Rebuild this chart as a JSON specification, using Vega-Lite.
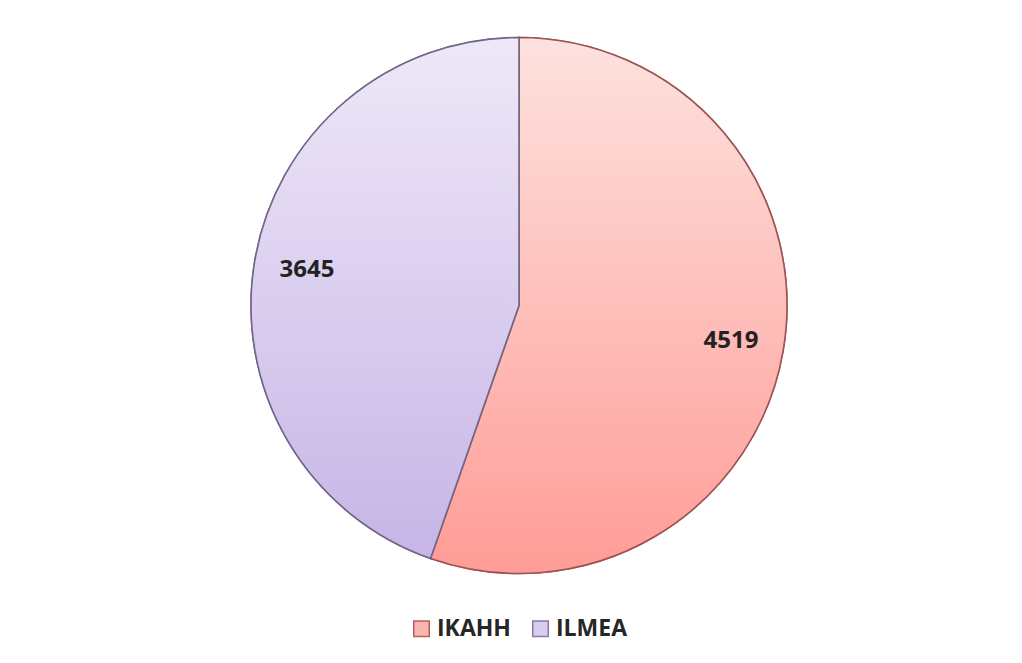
{
  "$schema": "https://vega.github.io/schema/vega-lite/v6.json",
  "width": 1022,
  "height": 663,
  "autosize": {"type": "fit", "contains": "padding"},
  "padding": {"left": 16, "top": 8, "right": 0, "bottom": 22},
  "background": "white",
  "data": {"values": [
    {"cat": "IKAHH", "value": 4519},
    {"cat": "ILMEA", "value": 3645}
  ]},
  "config": {"view": {"stroke": null}, "legend": {"layout": {"bottom": {"anchor": "middle"}}}},
  "layer": [
    {
      "mark": {"type": "arc", "outerRadius": 268, "strokeWidth": 1.5},
      "encoding": {
        "theta": {"field": "value", "type": "quantitative", "stack": true},
        "order": {"field": "cat", "sort": "ascending"},
        "fill": {"field": "cat", "type": "nominal",
          "scale": {"domain": ["IKAHH", "ILMEA"], "range": ["#fbb5af", "#d9cdef"]},
          "legend": {"orient": "bottom", "direction": "horizontal", "title": null, "offset": 14,
            "labelFont": "Open Sans", "labelFontWeight": "bold", "labelFontSize": 23, "labelColor": "#262626",
            "symbolType": "square", "symbolSize": 240, "symbolStrokeWidth": 1.5, "columnPadding": 18, "labelOffset": 4}},
        "stroke": {"field": "cat", "type": "nominal",
          "scale": {"domain": ["IKAHH", "ILMEA"], "range": ["#b3605c", "#8a7aa8"]},
          "legend": {"orient": "bottom", "direction": "horizontal", "title": null, "offset": 14,
            "labelFont": "Open Sans", "labelFontWeight": "bold", "labelFontSize": 23, "labelColor": "#262626",
            "symbolType": "square", "symbolSize": 240, "symbolStrokeWidth": 1.5, "columnPadding": 18, "labelOffset": 4}}
      }
    },
    {
      "mark": {"type": "arc", "outerRadius": 268, "strokeWidth": 1.6},
      "encoding": {
        "theta": {"field": "value", "type": "quantitative", "stack": true},
        "order": {"field": "cat", "sort": "ascending"},
        "fill": {
          "condition": {"test": "datum.cat === 'IKAHH'", "value": {"gradient": "linear", "x1": 0, "y1": 0, "x2": 0, "y2": 1,
            "stops": [{"offset": 0, "color": "#fde2df"}, {"offset": 1, "color": "#ff9c97"}]}},
          "value": {"gradient": "linear", "x1": 0, "y1": 0, "x2": 0, "y2": 1,
            "stops": [{"offset": 0, "color": "#efe8f8"}, {"offset": 1, "color": "#c6b5e6"}]}
        },
        "stroke": {
          "condition": {"test": "datum.cat === 'IKAHH'", "value": "#9c5452"},
          "value": "#6f6585"
        }
      }
    },
    {
      "mark": {"type": "text", "radius": 215, "font": "Open Sans", "fontWeight": "bold", "fontSize": 24, "color": "#222222"},
      "encoding": {
        "theta": {"field": "value", "type": "quantitative", "stack": true},
        "order": {"field": "cat", "sort": "ascending"},
        "detail": {"field": "cat"},
        "text": {"field": "value", "type": "quantitative", "format": "d"}
      }
    }
  ]
}
